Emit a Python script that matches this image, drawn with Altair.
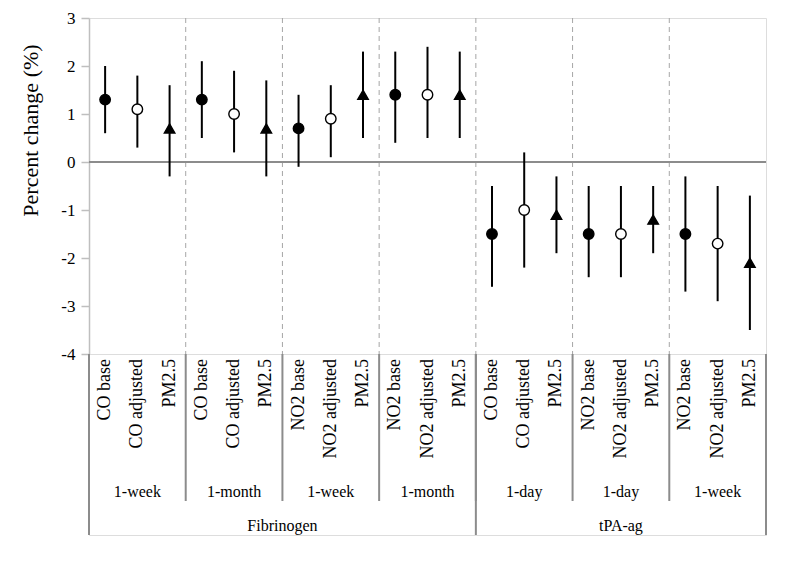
import altair as alt
import pandas as pd

FONT = "Liberation Serif"

labels = ["CO base", "CO adjusted", "PM2.5", "CO base", "CO adjusted", "PM2.5",
          "NO2 base", "NO2 adjusted", "PM2.5", "NO2 base", "NO2 adjusted", "PM2.5",
          "CO base", "CO adjusted", "PM2.5", "NO2 base", "NO2 adjusted", "PM2.5",
          "NO2 base", "NO2 adjusted", "PM2.5"]
kinds = ["base", "adjusted", "PM2.5"] * 7
estimate = [1.3, 1.1, 0.7, 1.3, 1.0, 0.7, 0.7, 0.9, 1.4, 1.4, 1.4, 1.4,
            -1.5, -1.0, -1.1, -1.5, -1.5, -1.2, -1.5, -1.7, -2.1]
lower = [0.6, 0.3, -0.3, 0.5, 0.2, -0.3, -0.1, 0.1, 0.5, 0.4, 0.5, 0.5,
         -2.6, -2.2, -1.9, -2.4, -2.4, -1.9, -2.7, -2.9, -3.5]
upper = [2.0, 1.8, 1.6, 2.1, 1.9, 1.7, 1.4, 1.6, 2.3, 2.3, 2.4, 2.3,
         -0.5, 0.2, -0.3, -0.5, -0.5, -0.5, -0.3, -0.5, -0.7]
windows = ["1-week", "1-month", "1-week", "1-month", "1-day", "1-day", "1-week"]
outcomes = ["Fibrinogen", "tPA-ag"]
windows_per_outcome = [4, 3]
per_window = 3
y_ticks = [-4, -3, -2, -1, 0, 1, 2, 3]

n = len(labels)
df = pd.DataFrame({"pos": [i + 0.5 for i in range(n)], "label": labels, "kind": kinds,
                   "estimate": estimate, "lower": lower, "upper": upper})

win_df = pd.DataFrame({"window": windows,
                       "mid": [j * per_window + per_window / 2 for j in range(len(windows))]})
starts = []
s = 0
for c in windows_per_outcome:
    starts.append(s)
    s += c
out_df = pd.DataFrame({"outcome": outcomes,
                       "mid": [(st + c / 2) * per_window for st, c in zip(starts, windows_per_outcome)]})
b_all = pd.DataFrame({"b": [j * per_window for j in range(len(windows) + 1)]})
b_inner = pd.DataFrame({"b": [j * per_window for j in range(1, len(windows))]})
b_out = pd.DataFrame({"b": [st * per_window for st in starts] + [len(windows) * per_window]})
zero_df = pd.DataFrame({"v": [0]})

W, H, HB = 677, 336, 181
xscale = alt.Scale(domain=[0, n], nice=False, zero=False)
yscale = alt.Scale(domain=[-4, 3], nice=False, zero=False)
yaxis = alt.Axis(values=y_ticks, grid=False, domainColor="#bfbfbf", domainWidth=1.5,
                 tickColor="#bfbfbf", tickSize=8, tickWidth=1.5, labelPadding=6,
                 labelFont=FONT, labelFontSize=17, labelColor="black",
                 labelExpr="'' + datum.value",
                 title="Percent change (%)", titleFont=FONT, titleFontSize=22,
                 titleFontWeight="normal", titleColor="black",
                 titleX=-47, titleY=112, titleAngle=270, titleAlign="center",
                 titleBaseline="bottom")

dashed = alt.Chart(b_inner).mark_rule(color="#a6a6a6", strokeDash=[5, 4], strokeWidth=1).encode(
    x=alt.X("b:Q", scale=xscale, axis=None))
zero = alt.Chart(zero_df).mark_rule(color="#8c8c8c", strokeWidth=2).encode(
    y=alt.Y("v:Q", scale=yscale, axis=yaxis))
bars = alt.Chart(df).mark_rule(color="black", strokeWidth=2).encode(
    x=alt.X("pos:Q", scale=xscale, axis=None),
    y=alt.Y("lower:Q", scale=yscale, axis=yaxis), y2="upper:Q")
pts = alt.Chart(df).mark_point(filled=True, stroke="black", strokeWidth=1.4, size=110, opacity=1).encode(
    x=alt.X("pos:Q", scale=xscale, axis=None),
    y=alt.Y("estimate:Q", scale=yscale, axis=yaxis),
    shape=alt.Shape("kind:N", scale=alt.Scale(domain=["base", "adjusted", "PM2.5"],
                                              range=["circle", "circle", "triangle-up"]), legend=None),
    fill=alt.Fill("kind:N", scale=alt.Scale(domain=["base", "adjusted", "PM2.5"],
                                            range=["black", "white", "black"]), legend=None))
top = alt.layer(dashed, zero, bars, pts).properties(width=W, height=H)

xb = alt.X("pos:Q", scale=xscale, axis=None)
cat_text = alt.Chart(df).mark_text(angle=270, align="right", baseline="middle", font=FONT,
                                   fontSize=18, color="black").encode(
    x=xb, y=alt.value(5), text="label:N")
win_text = alt.Chart(win_df).mark_text(font=FONT, fontSize=16, baseline="middle", color="black").encode(
    x=alt.X("mid:Q", scale=xscale, axis=None), y=alt.value(138), text="window:N")
out_text = alt.Chart(out_df).mark_text(font=FONT, fontSize=16, baseline="middle", color="black").encode(
    x=alt.X("mid:Q", scale=xscale, axis=None), y=alt.value(172), text="outcome:N")
sep2 = alt.Chart(b_all).mark_rule(color="#8c8c8c", strokeWidth=2).encode(
    x=alt.X("b:Q", scale=xscale, axis=None), y=alt.value(0), y2=alt.value(147))
sep1 = alt.Chart(b_out).mark_rule(color="#8c8c8c", strokeWidth=2).encode(
    x=alt.X("b:Q", scale=xscale, axis=None), y=alt.value(0), y2=alt.value(HB))
bottom = alt.layer(sep2, sep1, cat_text, win_text, out_text).properties(width=W, height=HB)

chart = alt.vconcat(top, bottom, spacing=0, bounds="flush").properties(
    padding={"left": 10, "top": 0, "right": 5, "bottom": 5}
).configure_view(stroke=None).configure(background="white", font=FONT).configure_axis(
    labelFont=FONT, titleFont=FONT)

chart.save("out.html", embed_options={"renderer": "svg", "actions": False})
